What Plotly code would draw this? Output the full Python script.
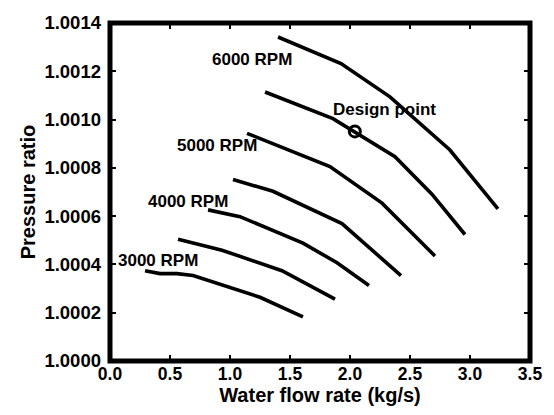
import plotly.graph_objects as go

# Speed curves: water flow rate (kg/s) vs pressure ratio
flow_6000 = [1.40, 1.925, 2.333, 2.833, 3.233]
pr_6000 = [1.001342, 1.001232, 1.001094, 1.000874, 1.000630]

flow_5500 = [1.292, 1.858, 2.375, 2.683, 2.958]
pr_5500 = [1.001114, 1.001004, 1.000846, 1.000691, 1.000524]

flow_5000 = [1.142, 1.833, 2.267, 2.708]
pr_5000 = [1.000943, 1.000805, 1.000654, 1.000435]

flow_4500 = [1.025, 1.358, 1.933, 2.425]
pr_4500 = [1.000752, 1.000703, 1.000569, 1.000354]

flow_4000 = [0.817, 1.083, 1.608, 1.892, 2.158]
pr_4000 = [1.000626, 1.000598, 1.000488, 1.000407, 1.000313]

flow_3500 = [0.567, 0.933, 1.433, 1.875]
pr_3500 = [1.000504, 1.000459, 1.000374, 1.000256]

flow_3000 = [0.292, 0.417, 0.558, 0.692, 1.25, 1.608]
pr_3000 = [1.000374, 1.000362, 1.000362, 1.000354, 1.000264, 1.000183]

design_flow = [2.04]
design_pr = [1.000951]

speed_labels = ["6000 RPM", "5000 RPM", "4000 RPM", "3000 RPM"]
label_flow = [1.183, 0.894, 0.65, 0.40]
label_pr = [1.001248, 1.000894, 1.000659, 1.000415]

x_ticks = [0.0, 0.5, 1.0, 1.5, 2.0, 2.5, 3.0, 3.5]
y_ticks = [1.0000, 1.0002, 1.0004, 1.0006, 1.0008, 1.0010, 1.0012, 1.0014]

FONT = "Liberation Sans, Arial, sans-serif"

fig = go.Figure()
curves = [(flow_6000, pr_6000), (flow_5500, pr_5500), (flow_5000, pr_5000),
          (flow_4500, pr_4500), (flow_4000, pr_4000), (flow_3500, pr_3500),
          (flow_3000, pr_3000)]
for fx, py in curves:
    fig.add_trace(go.Scatter(x=fx, y=py, mode="lines",
                             line=dict(color="black", width=3.6),
                             showlegend=False, hoverinfo="skip"))

fig.add_trace(go.Scatter(x=design_flow, y=design_pr, mode="markers",
                         marker=dict(symbol="circle-open", size=11, color="black",
                                     line=dict(width=3, color="black")),
                         showlegend=False))

for t, lx, ly in zip(speed_labels, label_flow, label_pr):
    fig.add_annotation(x=lx, y=ly, text=t, showarrow=False,
                       font=dict(family=FONT, size=17, color="black", weight="bold"))
fig.add_annotation(x=2.29, y=1.00104, text="Design point", showarrow=False,
                   font=dict(family=FONT, size=17, color="black", weight="bold"))

fig.add_shape(type="rect", xref="paper", yref="paper", x0=0, x1=1, y0=0, y1=1,
              line=dict(color="black", width=5), layer="above")

fig.update_layout(
    width=554, height=415,
    margin=dict(l=110, r=23, t=17, b=53),
    paper_bgcolor="white", plot_bgcolor="white",
    font=dict(family=FONT, color="black"),
    xaxis=dict(range=[0, 3.5], tickvals=x_ticks,
               ticktext=[f"{v:.1f}" for v in x_ticks],
               ticks="inside", ticklen=6, tickwidth=1.5, tickcolor="black",
               mirror="ticks", showline=False, showgrid=False, zeroline=False,
               ticklabelstandoff=0,
               tickfont=dict(family=FONT, size=17.5, weight="bold"),
               title=dict(text="Water flow rate (kg/s)", standoff=5,
                          font=dict(family=FONT, size=20, weight="bold"))),
    yaxis=dict(range=[1.0, 1.0014], tickvals=y_ticks,
               ticktext=[f"{v:.4f}" for v in y_ticks],
               ticks="inside", ticklen=6, tickwidth=1.5, tickcolor="black",
               mirror="ticks", showline=False, showgrid=False, zeroline=False,
               ticklabelstandoff=8,
               tickfont=dict(family=FONT, size=18.5, weight="bold"),
               title=dict(text="Pressure ratio", standoff=3,
                          font=dict(family=FONT, size=20, weight="bold"))),
)

fig.write_html("out.html")
